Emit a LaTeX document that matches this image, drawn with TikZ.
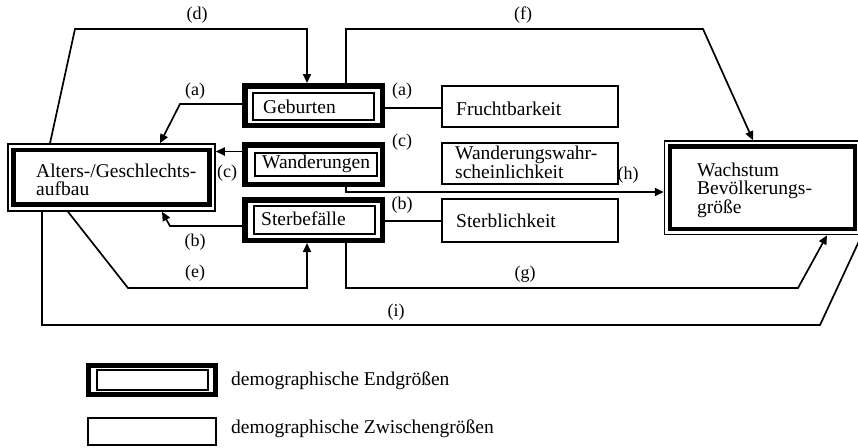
\documentclass[tikz,border=0pt]{standalone}
\usepackage{fontspec}
\setmainfont{Liberation Serif}
\usetikzlibrary{arrows.meta}
\begin{document}
\begin{tikzpicture}[x=1pt,y=-1pt,
  txt/.style={font=\fontsize{19.5}{18.5}\selectfont, inner sep=0pt, anchor=base west, align=left},
  lab/.style={font=\fontsize{18}{18}\selectfont, inner sep=0pt},
  zw/.style={draw, line width=2pt, inner sep=0pt},
  frameouter/.style={draw, line width=5.5pt, inner sep=0pt},
  frameinner/.style={draw, line width=2pt, inner sep=0pt},
  thinouter/.style={draw, line width=1.5pt, inner sep=0pt},
  thickinner/.style={draw, line width=4.5pt, inner sep=0pt},
  conn/.style={line width=1.7pt, -{Triangle[length=9pt,width=8pt]}},
  link/.style={line width=1.7pt},
]
\useasboundingbox (0,0) rectangle (858,447);
\clip (0,0) rectangle (858,447);

% Alters-/Geschlechtsaufbau
\node[thinouter, minimum width=207pt, minimum height=67pt] (alt) at (111.5,177.5) {};
\node[thickinner, minimum width=196pt, minimum height=54.5pt] (alti) at (111.5,177.25) {};
\node[txt, font=\fontsize{19.5}{18}\selectfont] (altt) at (36,195) {Alters-/Geschlechts-\\aufbau};

% Geburten
\node[frameouter, minimum width=137.5pt, minimum height=39.5pt] (geb) at (313.5,105.5) {};
\node[frameinner, minimum width=121pt, minimum height=27pt] (gebi) at (313.5,106.5) {};
\node[txt] (gebt) at (263,113) {Geburten};

% Wanderungen
\node[frameouter, minimum width=137.5pt, minimum height=39.5pt] (wan) at (313.5,164.5) {};
\node[frameinner, minimum width=122pt, minimum height=23pt] (wani) at (316,164.5) {};
\node[txt] (want) at (262,168) {Wanderungen};

% Sterbefaelle
\node[frameouter, minimum width=137.5pt, minimum height=40.5pt] (ster) at (313.5,220) {};
\node[frameinner, minimum width=121pt, minimum height=28pt] (steri) at (314.5,220) {};
\node[txt] (stert) at (261,225) {Sterbefälle};

% Zwischengroessen
\node[zw, minimum width=176pt, minimum height=41pt] (fr) at (530,106.5) {};
\node[txt] (frt) at (456,115) {Fruchtbarkeit};
\node[zw, minimum width=176pt, minimum height=41pt] (ww) at (530,163.5) {};
\node[txt, font=\fontsize{19.5}{17}\selectfont] (wwt) at (455,178) {Wanderungswahr-\\scheinlichkeit};
\node[zw, minimum width=176pt, minimum height=43pt] (sb) at (530,220.5) {};
\node[txt] (sbt) at (456,227) {Sterblichkeit};

% Wachstum
\node[thinouter, minimum width=196.5pt, minimum height=93.5pt] (wach) at (762.75,187.75) {};
\node[thickinner, minimum width=185pt, minimum height=82.5pt] (wachi) at (762.5,187.75) {};
\node[txt] (wacht) at (697,213) {Wachstum\\Bevölkerungs-\\größe};

% connectors
\draw[conn] ([xshift=-61.5pt]alt.north) -- (75,29) -- (307,29) -- ([xshift=-6.5pt]geb.north);
\draw[conn] ([xshift=32.5pt]geb.north) -- (346,29) -- (703,29) -- ([xshift=-9.75pt]wach.north);
\draw[conn] ([yshift=1.5pt]geb.west) -- (180,104) -- ([xshift=48.5pt]alt.north);
\draw[link] ([yshift=-2.5pt]geb.east) -- ([yshift=-1.5pt]fr.west);
\draw[conn] ([yshift=13pt]wan.west) -- ([yshift=26pt]alt.east);
\draw[conn] ([xshift=32.5pt]wan.south) -- (346,192) -- ([yshift=-4.25pt]wach.west);
\draw[conn] ([yshift=-6pt]ster.west) -- (170,226) -- ([xshift=50.5pt]alt.south);
\draw[link] ([yshift=-1pt]ster.east) -- ([yshift=-0.5pt]sb.west);
\draw[conn] ([xshift=-43.5pt]alt.south) -- (128,288) -- (307,288) -- ([xshift=-6.5pt]ster.south);
\draw[conn] ([xshift=32.5pt]ster.south) -- (346,288) -- (798,288) -- ([xshift=64.25pt]wach.south);
\draw[link] ([xshift=-69.5pt]alt.south) -- (42,325) -- (820,325) -- (wach.south east);

% labels
\node[lab] (ld) at (197,15) {(d)};
\node[lab] (lf) at (523,15) {(f)};
\node[lab] (laL) at (195,91) {(a)};
\node[lab] (laR) at (402,91) {(a)};
\node[lab] (lcR) at (402,142) {(c)};
\node[lab] (lcL) at (227,173) {(c)};
\node[lab] (lh) at (628,175) {(h)};
\node[lab] (lbR) at (402,205) {(b)};
\node[lab] (lbL) at (195,242) {(b)};
\node[lab] (le) at (195,273) {(e)};
\node[lab] (lg) at (525,274) {(g)};
\node[lab] (li) at (396,312) {(i)};

% legend
\node[draw, line width=5pt, inner sep=0pt, minimum width=127pt, minimum height=29pt] (leg1) at (152,380) {};
\node[frameinner, minimum width=111pt, minimum height=20pt] (leg1i) at (152.5,380) {};
\node[txt] (leg1t) at (231,385) {demographische Endgrößen};
\node[zw, minimum width=128pt, minimum height=27pt] (leg2) at (152,431.5) {};
\node[txt] (leg2t) at (231,433) {demographische Zwischengrößen};
\end{tikzpicture}
\end{document}
